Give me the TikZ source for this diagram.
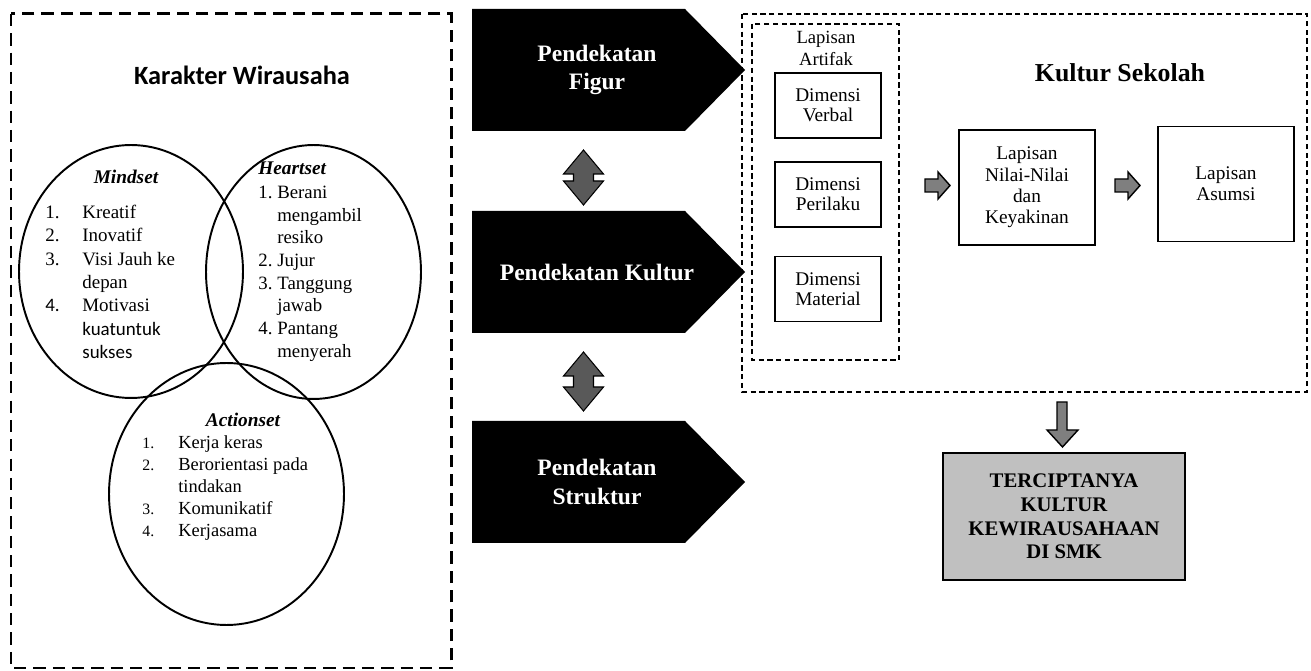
\documentclass[tikz,border=0pt]{standalone}
\usepackage{fontspec}
\setmainfont{Liberation Serif}
\newfontfamily\calibri{Carlito}
\usetikzlibrary{shapes.geometric}
\definecolor{arrowgray}{HTML}{7F7F7F}
\definecolor{dblgray}{HTML}{595959}
\definecolor{boxgray}{HTML}{C0C0C0}

\begin{document}
\begin{tikzpicture}
  [x=0.02cm,y=-0.02cm,every node/.style={inner sep=0pt},
   oval/.style={ellipse,draw=black,line width=1.1pt},
   settitle/.style={font=\bfseries\itshape\fontsize{11}{13.3}\selectfont},
   approach/.style={text=white,align=center,font=\bfseries\fontsize{13.4}{16}\selectfont},
   dimbox/.style={draw=black,line width=1.1pt,minimum width=2.12cm,minimum height=1.3cm,
     align=center,font=\fontsize{11}{11.4}\selectfont},
   layerbox/.style={draw=black,line width=1.1pt,minimum width=2.72cm,minimum height=2.3cm,
     align=center,font=\fontsize{11}{12.1}\selectfont},
   hasilbox/.style={draw=black,fill=boxgray,line width=1.1pt,minimum width=4.84cm,
     minimum height=2.54cm,align=center,font=\bfseries\fontsize{11.8}{13.4}\selectfont}]
  \useasboundingbox (0,0) rectangle (1311,671);

  % dashed frames
  \draw[line width=1.7pt,dash pattern=on 7pt off 4pt] (11,14) rectangle (451,668);
  \draw[line width=0.9pt,dash pattern=on 3pt off 2pt] (742,14) rectangle (1307,392);
  \draw[line width=0.9pt,dash pattern=on 3pt off 2pt] (752,24) rectangle (899,360);

  % Karakter Wirausaha
  \node[font=\calibri\bfseries\fontsize{15}{18}\selectfont] (kw) at (242,75) {Karakter Wirausaha};
  \node[oval,minimum width=4.48cm,minimum height=5.06cm] (mind) at (131,271.5) {};
  \node[oval,minimum width=4.3cm,minimum height=5.08cm] (heart) at (313.5,272) {};
  \node[oval,minimum width=4.7cm,minimum height=5.24cm] (action) at (226.5,494) {};

  \node[settitle,anchor=base] (mindt) at (126,184) {Mindset};
  \node[anchor=base west,font=\fontsize{10.8}{13.3}\selectfont] (mindl) at (45,218.5)
    {\begin{tabular}[t]{@{}p{0.74cm}@{}l@{}}
      1.&Kreatif\\ 2.&Inovatif\\ 3.&Visi Jauh ke\\ &depan\\
      {\calibri 4.}&Motivasi\\ &{\calibri kuatuntuk}\\ &{\calibri sukses}
     \end{tabular}};

  \node[settitle,anchor=base west] (heartt) at (258,175) {Heartset};
  \node[anchor=base west,font=\fontsize{10.7}{12.9}\selectfont] (heartl) at (258,198.5)
    {\begin{tabular}[t]{@{}p{0.38cm}@{}l@{}}
      1.&Berani\\ &mengambil\\ &resiko\\ 2.&Jujur\\
      3.&Tanggung\\ &jawab\\ 4.&Pantang\\ &menyerah
     \end{tabular}};

  \node[settitle,anchor=base] (actiont) at (243,427) {Actionset};
  \node[anchor=base west,font=\fontsize{10.5}{12.5}\selectfont] (actionl) at (142,448.5)
    {\begin{tabular}[t]{@{}p{0.72cm}@{}l@{}}
      {\small 1.}&Kerja keras\\ {\small 2.}&Berorientasi pada\\ &tindakan\\
      {\small 3.}&Komunikatif\\ {\small 4.}&Kerjasama
     \end{tabular}};

  % pendekatan
  \foreach \y in {9,211,421}
    \fill (472,\y) -- (685,\y) -- (745,\y+61) -- (685,\y+122) -- (472,\y+122) -- cycle;
  \node[approach] (figur) at (597,70) {Pendekatan\\Figur};
  \node[approach] (kultur) at (597,272) {Pendekatan Kultur};
  \node[approach] (struktur) at (597,482) {Pendekatan\\Struktur};

  \foreach \ya/\yb in {150/205, 352/411}
    \filldraw[fill=dblgray,line width=0.6pt] (583.5,\ya) -- (603.5,\ya+24) -- (593.5,\ya+24)
      -- (593.5,\yb-24) -- (603.5,\yb-24) -- (583.5,\yb) -- (563.5,\yb-24) -- (573.5,\yb-24)
      -- (573.5,\ya+24) -- (563.5,\ya+24) -- cycle;

  % Kultur Sekolah
  \node[font=\bfseries\fontsize{14.7}{17}\selectfont] (ks) at (1120,73) {Kultur Sekolah};
  \node[align=center,font=\fontsize{10.6}{12.5}\selectfont] (artifak) at (826,48) {Lapisan\\Artifak};
  \node[dimbox] (verbal) at (828,105.5) {Dimensi\\Verbal};
  \node[dimbox] (perilaku) at (828,194.5) {Dimensi\\Perilaku};
  \node[dimbox] (material) at (828,289) {Dimensi\\Material};
  \node[layerbox] (nilai) at (1027,187.5) {Lapisan\\Nilai-Nilai\\dan\\Keyakinan};
  \node[layerbox] (asumsi) at (1226,184) {Lapisan\\Asumsi};
  \node[hasilbox] (hasil) at (1064,516.5) {TERCIPTANYA\\KULTUR\\KEWIRAUSAHAAN\\DI SMK};

  \foreach \x in {925,1115}
    \filldraw[fill=arrowgray,line width=0.8pt] (\x,179) -- (\x+13,179) -- (\x+13,172)
      -- (\x+25,185.5) -- (\x+13,199) -- (\x+13,192) -- (\x,192) -- cycle;
  \filldraw[fill=arrowgray,line width=0.8pt] (1057,402) -- (1067,402) -- (1067,430)
    -- (1078,430) -- (1062.5,447) -- (1047,430) -- (1057,430) -- cycle;
\end{tikzpicture}
\end{document}
